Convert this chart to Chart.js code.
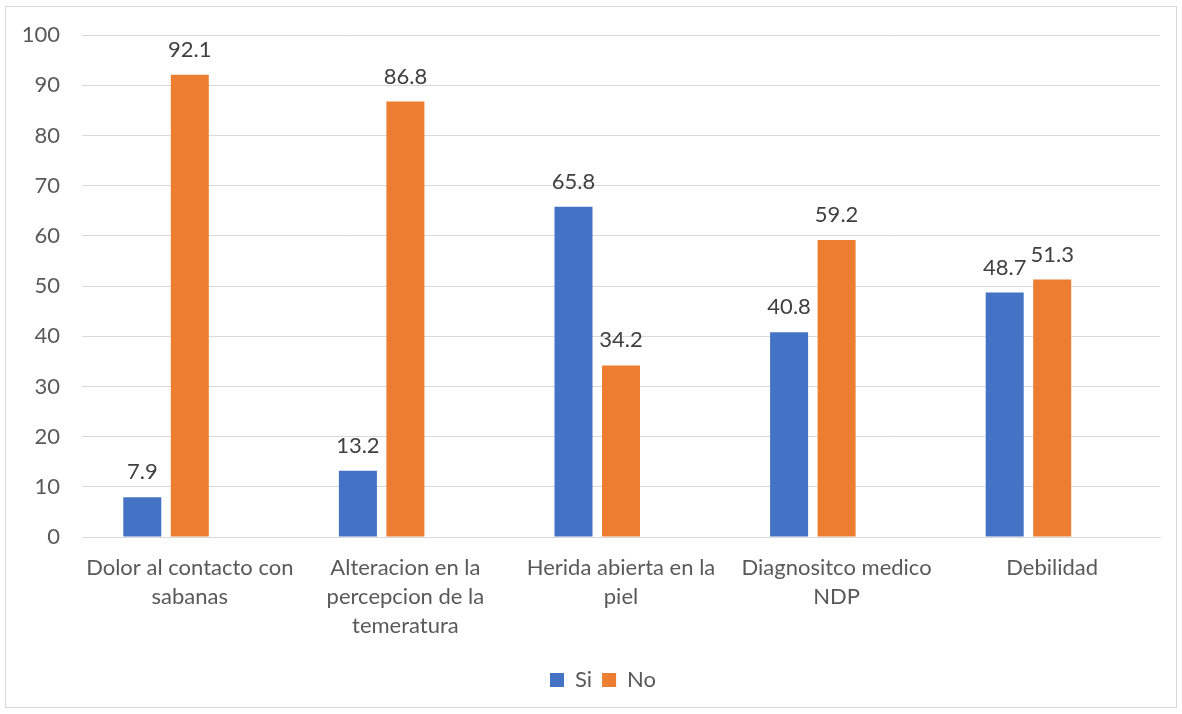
<!DOCTYPE html>
<html>
<head>
<meta charset="utf-8">
<script src="https://cdn.jsdelivr.net/npm/chart.js@4"></script>
<style>
html,body{margin:0;padding:0;background:#fff;}
#wrap{position:absolute;left:0;top:0;width:1182px;height:714px;}
</style>
</head>
<body>
<div id="wrap"><canvas id="c" width="1182" height="714"></canvas></div>
<script>
const categories = [
  ["Dolor al contacto con", "sabanas"],
  ["Alteracion en la", "percepcion de la", "temeratura"],
  ["Herida abierta en la", "piel"],
  ["Diagnositco medico", "NDP"],
  ["Debilidad"]
];
const siValues = [7.9, 13.2, 65.8, 40.8, 48.7];
const noValues = [92.1, 86.8, 34.2, 59.2, 51.3];
const spacerValues = [null, null, null, null, null];
const yTicks = [0, 10, 20, 30, 40, 50, 60, 70, 80, 90, 100];

const FONT = "Lato, 'Open Sans', sans-serif";
const GRAY = '#595959';

const frame = {
  id: 'frame',
  beforeDraw(chart) {
    const ctx = chart.ctx;
    ctx.save();
    ctx.fillStyle = '#fff';
    ctx.fillRect(0, 0, chart.width, chart.height);
    ctx.strokeStyle = '#d9d9d9';
    ctx.lineWidth = 1;
    ctx.strokeRect(5.5, 6.5, 1171, 701);
    ctx.restore();
  }
};

const legendShift = {
  id: 'legendShift',
  afterLayout(chart) {
    if (chart.legend) {
      chart.legend.left += 23;
      chart.legend.right += 23;
    }
  }
};

const valueLabels = {
  id: 'valueLabels',
  afterDatasetsDraw(chart) {
    const ctx = chart.ctx;
    ctx.save();
    ctx.font = '22px ' + FONT;
    ctx.fillStyle = '#404040';
    ctx.textAlign = 'center';
    ctx.textBaseline = 'middle';
    chart.data.datasets.forEach((ds, di) => {
      const meta = chart.getDatasetMeta(di);
      meta.data.forEach((bar, i) => {
        const v = ds.data[i];
        if (v === null || v === undefined) return;
        ctx.fillText(v.toFixed(1), bar.x, bar.y - 25);
      });
    });
    ctx.restore();
  }
};

new Chart(document.getElementById('c'), {
  type: 'bar',
  data: {
    labels: categories,
    datasets: [
      { label: 'Si', data: siValues, backgroundColor: '#4472C4', borderColor: '#4472C4' },
      { label: 'No', data: noValues, backgroundColor: '#ED7D31', borderColor: '#ED7D31' },
      { label: '', data: spacerValues, backgroundColor: 'rgba(0,0,0,0)' }
    ]
  },
  options: {
    responsive: false,
    animation: false,
    devicePixelRatio: 1,
    layout: { padding: { top: 35, right: 22, left: 0, bottom: 13 } },
    datasets: { bar: { categoryPercentage: 0.661, barPercentage: 0.8 } },
    plugins: {
      legend: {
        position: 'bottom',
        labels: {
          font: { family: FONT, size: 22 },
          color: GRAY,
          boxWidth: 14,
          boxHeight: 14,
          padding: 10,
          filter: (item) => item.text !== ''
        }
      },
      tooltip: { enabled: false }
    },
    scales: {
      x: {
        grid: { display: false, drawTicks: false },
        border: { display: true, color: '#d9d9d9', width: 1 },
        ticks: {
          color: GRAY,
          font: { family: FONT, size: 22, lineHeight: 1.3 },
          maxRotation: 0,
          minRotation: 0,
          autoSkip: false,
          padding: 17
        },
        afterFit(scale) { scale.height = 122; }
      },
      y: {
        min: 0,
        max: 100,
        afterBuildTicks(scale) { scale.ticks = yTicks.map(v => ({ value: v })); },
        grid: { color: '#d9d9d9', lineWidth: 1, drawTicks: false },
        border: { display: false },
        ticks: {
          color: GRAY,
          font: { family: FONT, size: 22 },
          padding: 22
        },
        afterFit(scale) { scale.width = 82; }
      }
    }
  },
  plugins: [frame, legendShift, valueLabels]
});
</script>
</body>
</html>
